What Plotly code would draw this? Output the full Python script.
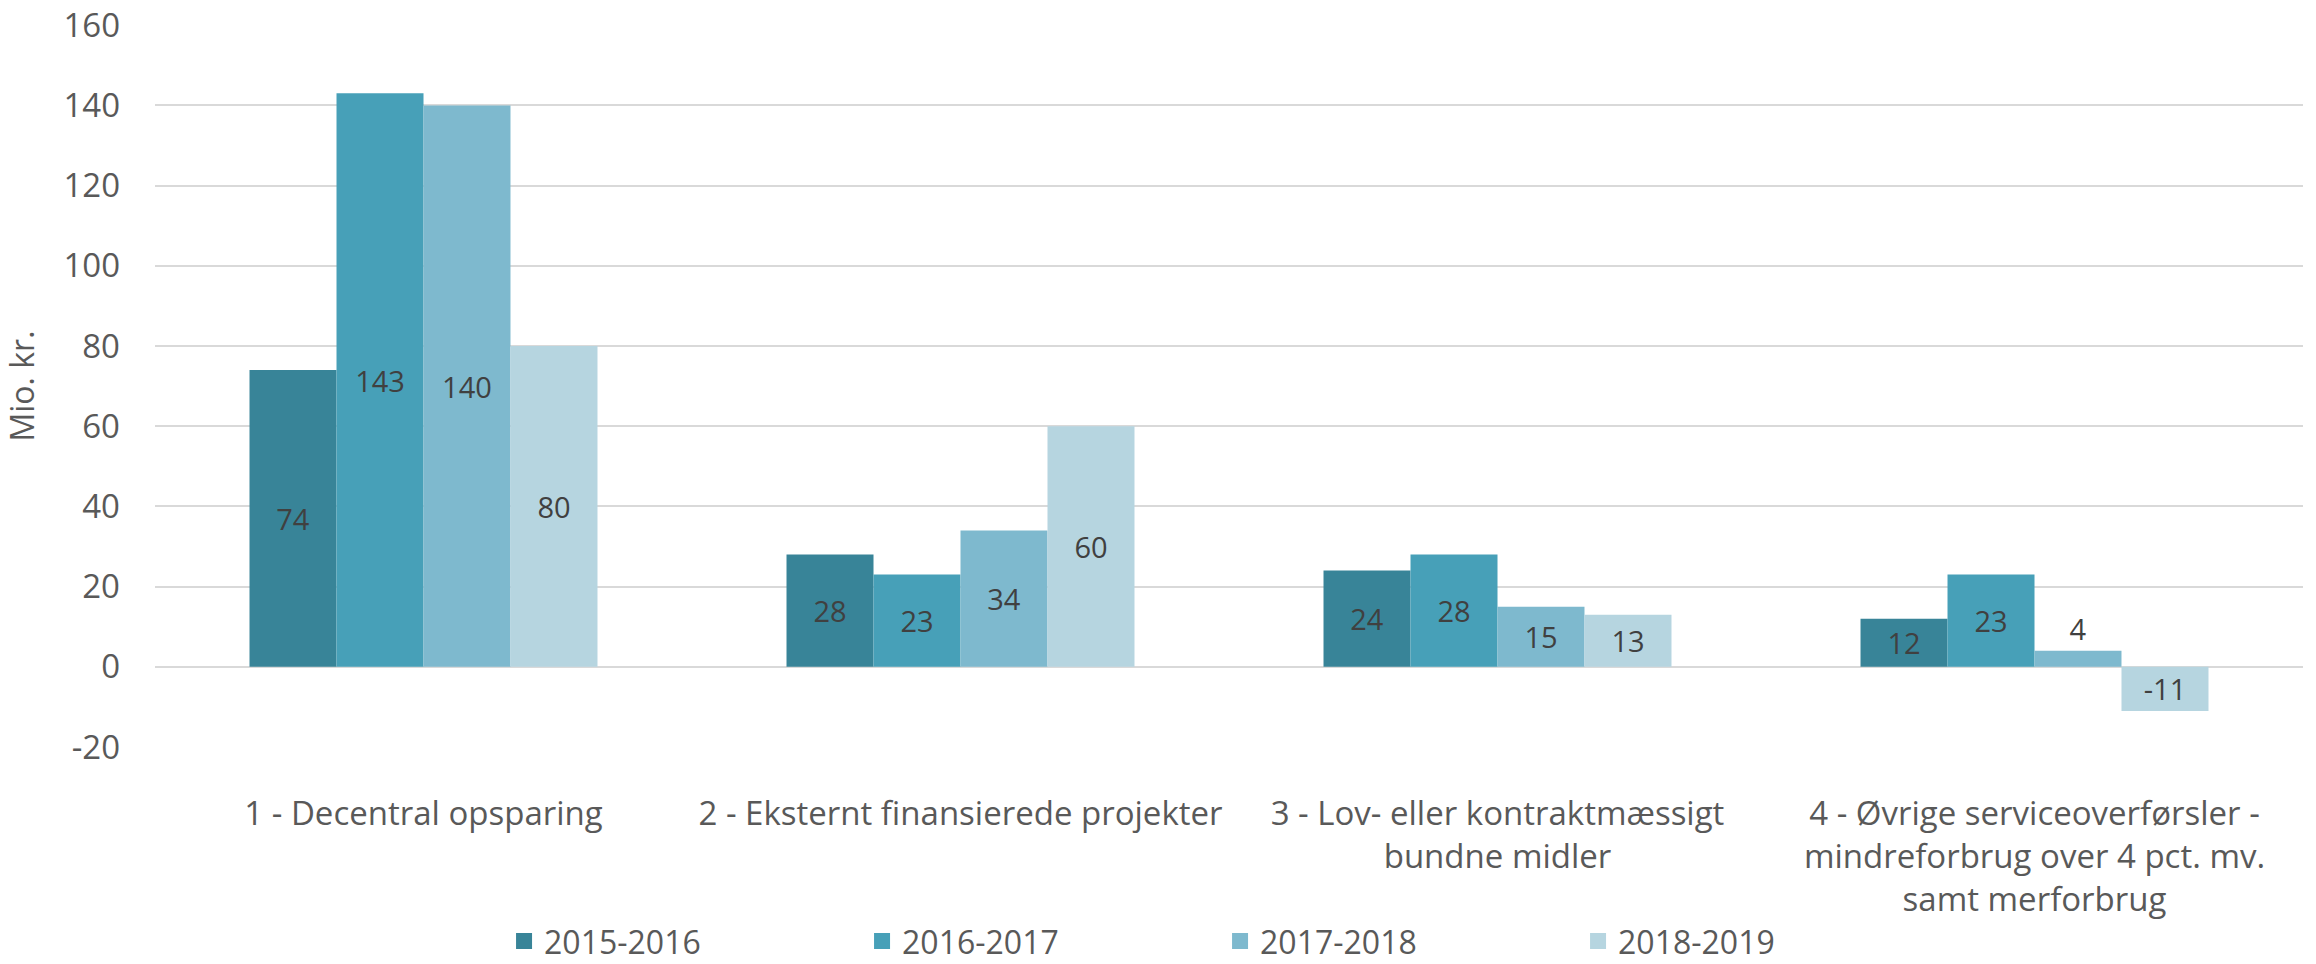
import plotly.graph_objects as go

categories = [
    "1 - Decentral opsparing",
    "2 - Eksternt finansierede projekter",
    "3 - Lov- eller kontraktmæssigt<br>bundne midler",
    "4 - Øvrige serviceoverførsler -<br>mindreforbrug over 4 pct. mv.<br>samt merforbrug",
]
series_names = ["2015-2016", "2016-2017", "2017-2018", "2018-2019"]
v_2015_2016 = [74, 28, 24, 12]
v_2016_2017 = [143, 23, 28, 23]
v_2017_2018 = [140, 34, 15, 4]
v_2018_2019 = [80, 60, 13, -11]
series_values = [v_2015_2016, v_2016_2017, v_2017_2018, v_2018_2019]
colors = ["#388498", "#47A0B8", "#7EB9CE", "#B6D5E0"]
y_ticks = [-20, 0, 20, 40, 60, 80, 100, 120, 140, 160]

FONT = "Open Sans, Arial, sans-serif"
TXT = "#595959"

fig = go.Figure()
for name, vals, col in zip(series_names, series_values, colors):
    positions = ["outside" if (0 <= v < 8) else "inside" for v in vals]
    fig.add_trace(go.Bar(
        name=name, x=categories, y=vals,
        marker=dict(color=col, line=dict(width=0)),
        text=[str(v) for v in vals],
        textposition=positions,
        insidetextanchor="middle",
        textangle=0,
        constraintext="none",
        cliponaxis=False,
        textfont=dict(family=FONT, size=29, color="#404040"),
        legendgroup=name, showlegend=False,
    ))
# legend entries with larger square swatches
for name, col in zip(series_names, colors):
    fig.add_trace(go.Scatter(
        name=name, x=[None], y=[None], mode="markers",
        marker=dict(symbol="square", size=16, color=col, line=dict(width=0)),
        legendgroup=name, showlegend=True, hoverinfo="skip",
    ))

fig.update_layout(
    width=2316, height=1000,
    barmode="group", bargap=0.352, bargroupgap=0,
    plot_bgcolor="white", paper_bgcolor="white",
    margin=dict(l=155, r=13, t=25, b=253, autoexpand=False),
    font=dict(family=FONT, size=33, color=TXT),
    legend=dict(
        orientation="h", x=0.1625, xanchor="left", y=-0.269, yanchor="middle",
        entrywidth=313, entrywidthmode="pixels", itemsizing="trace",
        font=dict(family=FONT, size=32, color=TXT),
        bgcolor="rgba(0,0,0,0)",
    ),
)
fig.update_yaxes(
    range=[-20, 160.05], tickvals=y_ticks, ticktext=[str(t) for t in y_ticks],
    showgrid=True, gridcolor="#D9D9D9", gridwidth=2,
    zeroline=True, zerolinecolor="#D9D9D9", zerolinewidth=2,
    showline=False, ticks="", ticklabelstandoff=34, automargin=False,
    ticklabeloverflow="allow",
    tickfont=dict(family=FONT, size=33, color=TXT),
    title=dict(text="Mio. kr.", standoff=20, font=dict(family=FONT, size=32, color=TXT)),
)
fig.update_xaxes(
    showgrid=False, showline=False, ticks="", ticklabelstandoff=44, automargin=False,
    tickfont=dict(family=FONT, size=33, color=TXT),
)

fig.write_html("out.html", config={"displayModeBar": False},
               post_script="document.body.style.margin='0';")
